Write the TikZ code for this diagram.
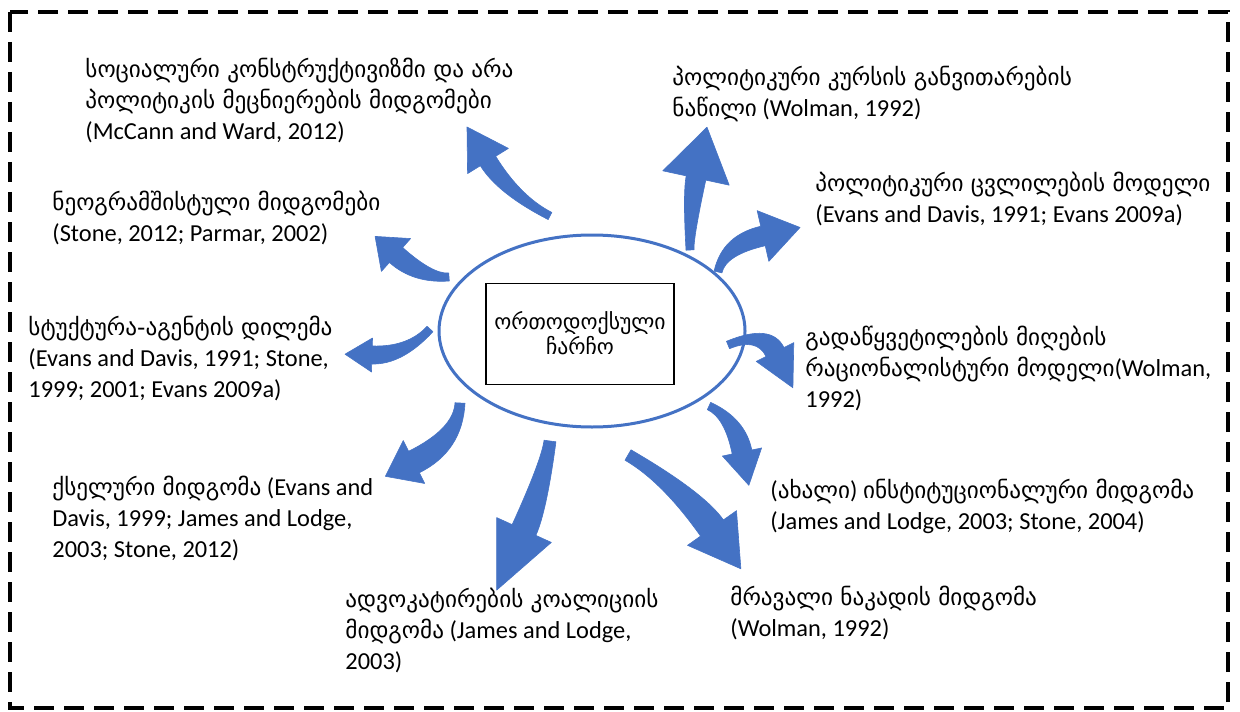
\documentclass[tikz,border=0pt]{standalone}
\usepackage{fontspec}
\setmainfont{Carlito}
\newfontfamily\geo{DejaVu Sans}[Scale=0.95]
\usetikzlibrary{calc}
\definecolor{arrowblue}{HTML}{4472C4}
\newcommand\ka[1]{{\geo #1}}
% curved block arrow
% #1 tail, #2 bend control, #3 head base, #4 tail half-width,
% #5 shaft half-width at the head, #6 head half-width, #7 head length
\newcommand\curvedarrow[7]{%
  \path ($(#3)!-#7!(#2)$) coordinate (tp)
        ($(#3)!#5!90:(tp)$) coordinate (bo)
        ($(#3)!#5!-90:(tp)$) coordinate (bi)
        ($(#3)!#6!90:(tp)$) coordinate (ho)
        ($(#3)!#6!-90:(tp)$) coordinate (hi)
        ($(#1)!#4!90:(#2)$) coordinate (to)
        ($(#1)!#4!-90:(#2)$) coordinate (ti)
        ($(to)+(#2)-(#1)$) coordinate (to2)
        ($(ti)+(#2)-(#1)$) coordinate (ti2)
        ($(bo)+(#2)-(#3)$) coordinate (bo2)
        ($(bi)+(#2)-(#3)$) coordinate (bi2)
        (intersection of to--to2 and bo--bo2) coordinate (co)
        (intersection of ti--ti2 and bi--bi2) coordinate (ci);
  \fill[arr] (to) .. controls ($(to)!2/3!(co)$) and ($(bo)!2/3!(co)$) .. (bo)
     -- (ho) -- (tp) -- (hi) -- (bi)
     .. controls ($(bi)!2/3!(ci)$) and ($(ti)!2/3!(ci)$) .. (ti) -- cycle;
}
\begin{document}
\begin{tikzpicture}[x=0.5pt,y=-0.5pt,
  txt/.style={anchor=north west, inner sep=0pt, align=left, font=\fontsize{12.2}{15.5}\selectfont},
  arr/.style={fill=arrowblue, draw=arrowblue, line width=0.3pt, line join=round},
  outerframe/.style={draw=black, line width=1.6pt, dash pattern=on 10pt off 5pt}]
\useasboundingbox (0,0) rectangle (1240,711);
\draw[outerframe] (10,12) rectangle (1228,708);

% central frame
\draw[arrowblue, line width=1.5pt] (592,331) ellipse [x radius=153, y radius=96];
\node[draw=black, line width=0.8pt, minimum width=94pt, minimum height=50.5pt, inner sep=0pt] (box) at (580,334) {};
\node[align=center, inner sep=0pt, font=\fontsize{11.4}{10.5}\selectfont] (core) at (580,333) {\ka{ორთოდოქსული}\\\ka{ჩარჩო}};

% labels
\node[txt] (l1) at (85,58) {\ka{სოციალური კონსტრუქტივიზმი და არა}\\\ka{პოლიტიკის მეცნიერების მიდგომები}\\(McCann and Ward, 2012)};
\node[txt] (l2) at (672,66) {\ka{პოლიტიკური კურსის განვითარების}\\\ka{ნაწილი} (Wolman, 1992)};
\node[txt] (l3) at (815,172) {\ka{პოლიტიკური ცვლილების მოდელი}\\(Evans and Davis, 1991; Evans 2009a)};
\node[txt] (l4) at (52,191) {\ka{ნეოგრამშისტული მიდგომები}\\(Stone, 2012; Parmar, 2002)};
\node[txt] (l5) at (28,316) {\ka{სტუქტურა-აგენტის დილემა}\\(Evans and Davis, 1991; Stone,\\1999; 2001; Evans 2009a)};
\node[txt] (l7) at (805,326) {\ka{გადაწყვეტილების მიღების}\\\ka{რაციონალისტური მოდელი}(Wolman,\\1992)};
\node[txt] (l8) at (52,476) {\ka{ქსელური მიდგომა} (Evans and\\Davis, 1999; James and Lodge,\\2003; Stone, 2012)};
\node[txt] (l9) at (770,479) {(\ka{ახალი}) \ka{ინსტიტუციონალური მიდგომა}\\(James and Lodge, 2003; Stone, 2004)};
\node[txt] (l10) at (345,588) {\ka{ადვოკატირების კოალიციის}\\\ka{მიდგომა} (James and Lodge,\\2003)};
\node[txt] (l11) at (730,586) {\ka{მრავალი ნაკადის მიდგომა}\\(Wolman, 1992)};

% arrow geometry: tail, bend, head base
\coordinate (t1) at (550,216); \coordinate (c1) at (509,195); \coordinate (b1) at (488,161);
\coordinate (t2) at (690,250); \coordinate (c2) at (688,215); \coordinate (b2) at (696,178);
\coordinate (t3) at (718,272); \coordinate (c3) at (724,245); \coordinate (b3) at (763,236);
\coordinate (t4) at (449,277); \coordinate (c4) at (423,279); \coordinate (b4) at (396,255);
\coordinate (t5) at (430,329); \coordinate (c5) at (405,356); \coordinate (b5) at (372,355);
\coordinate (t6) at (728,345); \coordinate (c6) at (764,330); \coordinate (b6) at (775,352);
\coordinate (t7) at (709,406); \coordinate (c7) at (735,418); \coordinate (b7) at (742,452);
\coordinate (t8) at (460,403); \coordinate (c8) at (458,440); \coordinate (b8) at (414,462);
\coordinate (t9) at (550,441); \coordinate (c9) at (544,486); \coordinate (b9) at (524,530);
\coordinate (t10) at (628,455); \coordinate (c10) at (683,487); \coordinate (b10) at (712,528);

\curvedarrow{t1}{c1}{b1}{2pt}{4.5pt}{12pt}{20pt}
\curvedarrow{t2}{c2}{b2}{2pt}{5pt}{17pt}{26pt}
\curvedarrow{t3}{c3}{b3}{2pt}{5pt}{13pt}{19pt}
\curvedarrow{t4}{c4}{b4}{2pt}{5pt}{11pt}{14pt}
\curvedarrow{t5}{c5}{b5}{2pt}{4.5pt}{8.5pt}{13.5pt}
\curvedarrow{t6}{c6}{b6}{2pt}{5pt}{10.5pt}{20pt}
\curvedarrow{t7}{c7}{b7}{2pt}{5pt}{10pt}{17pt}
\curvedarrow{t8}{c8}{b8}{2.5pt}{6pt}{12pt}{16pt}
\curvedarrow{t9}{c9}{b9}{3pt}{6.5pt}{15pt}{33pt}
\curvedarrow{t10}{c10}{b10}{3pt}{7pt}{15pt}{25pt}
\end{tikzpicture}
\end{document}
